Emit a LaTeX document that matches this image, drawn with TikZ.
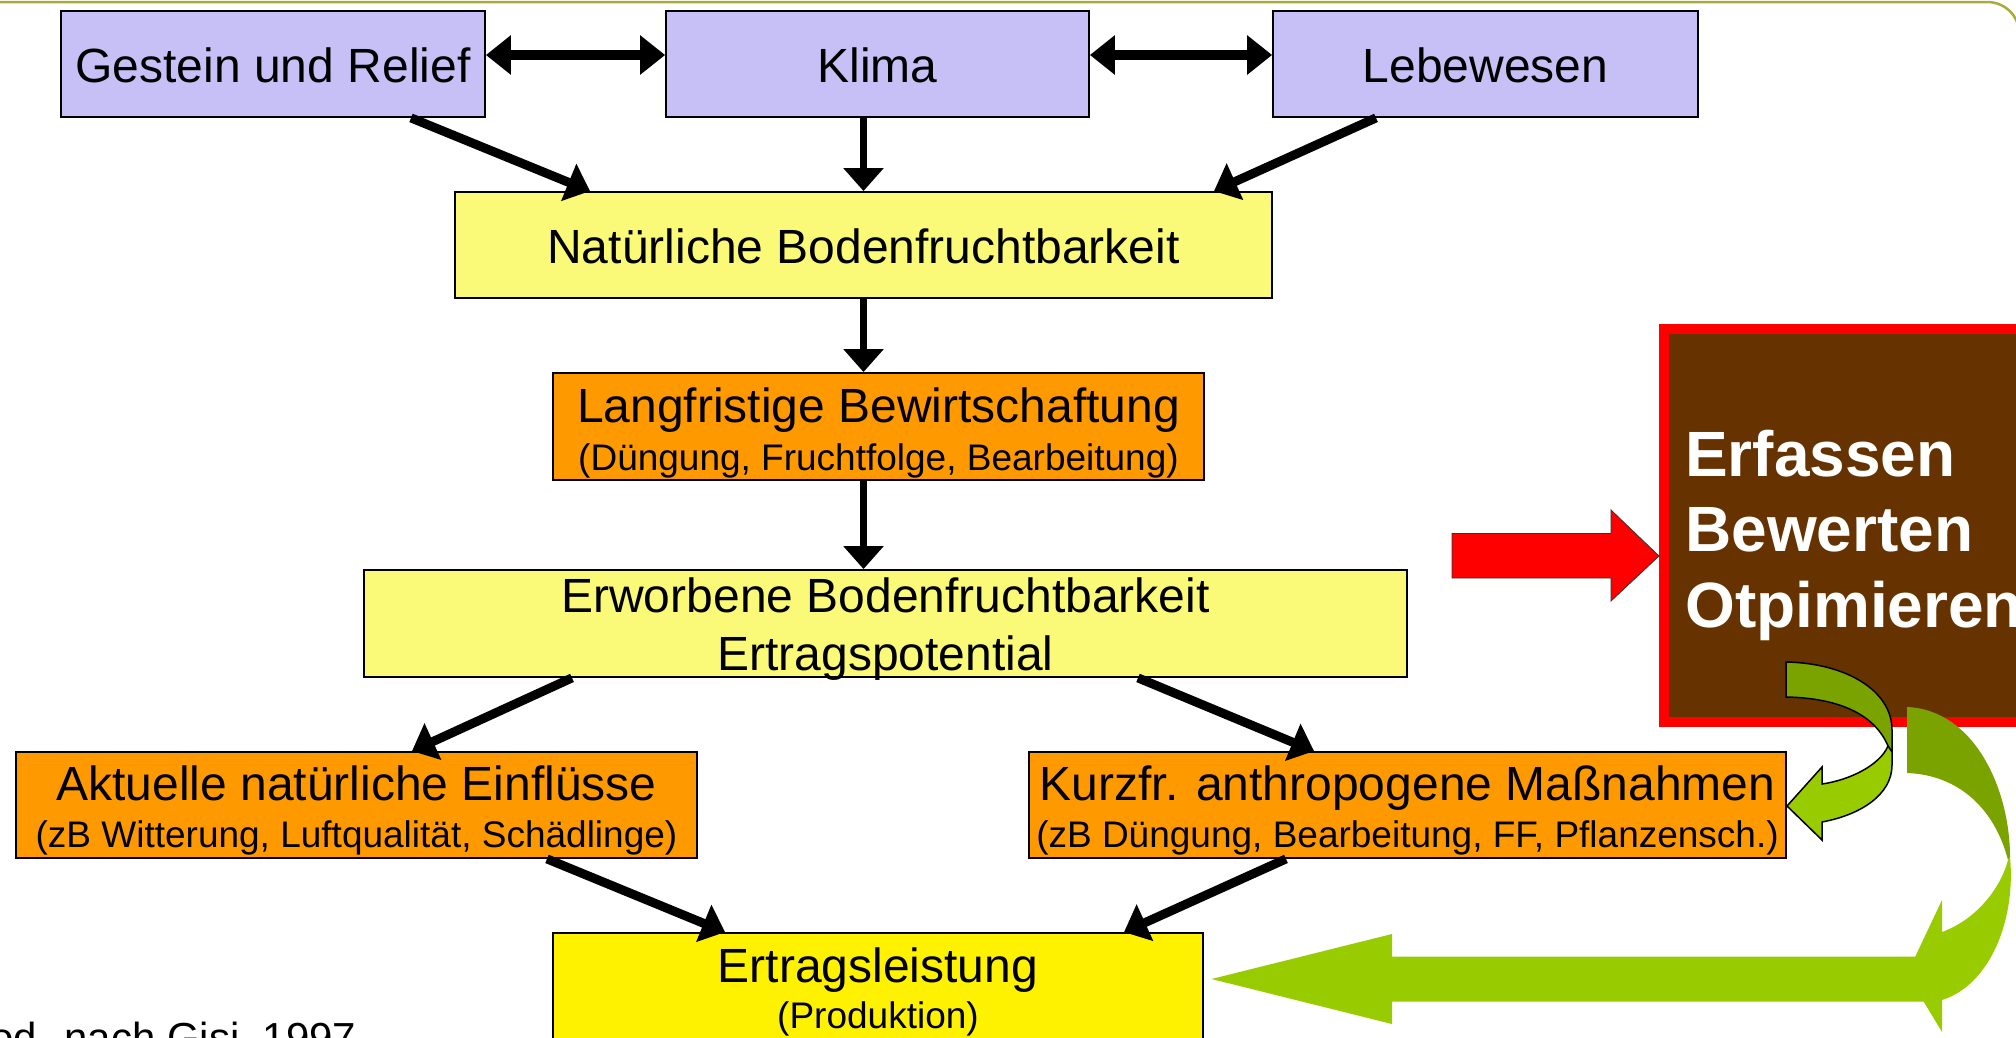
\documentclass[tikz,border=0pt]{standalone}
\usepackage{fontspec}
\setmainfont{Liberation Sans}
\usetikzlibrary{arrows.meta}

\definecolor{lavender}{RGB}{198,192,246}
\definecolor{paleyellow}{RGB}{250,250,120}
\definecolor{orangebox}{RGB}{255,153,0}
\definecolor{brownbox}{RGB}{102,51,0}
\definecolor{lightgreen}{RGB}{153,204,0}
\definecolor{darkgreen}{RGB}{122,163,0}
\definecolor{frameolive}{RGB}{170,170,60}

\begin{document}
\begin{tikzpicture}
		[
			x=1pt, y=-1pt,
			align=center,
			box/.style={draw, line width=1.8pt, inner sep=0pt},
			one/.style={text height=36pt, text depth=0pt, font=\fontsize{48}{58}\selectfont},
			big/.style={anchor=base, inner sep=0pt, font=\fontsize{48}{58}\selectfont},
			small/.style={anchor=base, inner sep=0pt, font=\fontsize{37}{44}\selectfont},
			strong/.style={anchor=base west, inner sep=0pt, text=white, font=\fontsize{64}{75}\selectfont\bfseries},
			arrow/.style={line width=9pt, -{Triangle[length=23pt,width=39pt]}},
			twoway/.style={line width=10pt, {Triangle[length=25pt,width=38pt]}-{Triangle[length=25pt,width=38pt]}}
		]

		\useasboundingbox (0,0) rectangle (2016,1037);
		\clip (0,0) rectangle (2016,1037);

		% slide frame
		\draw[frameolive, line width=2.5pt] (0,2) -- (1987,2) .. controls (2005,2) and (2019.4,16) .. (2019.4,34.4) -- (2019.4,1037);

		% factors
		\node[box, one, fill=lavender, minimum width=424pt, minimum height=106pt]	(gestein)	at (  273.0,  64.0 ) {Gestein und Relief};
		\node[box, one, fill=lavender, minimum width=423pt, minimum height=106pt]	(klima)		at (  877.5,  64.0 ) {Klima};
		\node[box, one, fill=lavender, minimum width=425pt, minimum height=106pt]	(lebewesen)	at ( 1485.5,  64.0 ) {Lebewesen};

		% fertility
		\node[box, one, fill=paleyellow, minimum width=817pt, minimum height=106pt]	(natur)		at (  863.5, 245.0 ) {Natürliche Bodenfruchtbarkeit};

		\node[box, fill=orangebox, minimum width=651pt, minimum height=107pt]		(langfr)	at (  878.5, 426.5 ) {};
		\node[big]		(langfr-a)		at (  878.5, 422.0 ) {Langfristige Bewirtschaftung};
		\node[small]	(langfr-b)		at (  878.5, 470.0 ) {(Düngung, Fruchtfolge, Bearbeitung)};

		\node[box, fill=paleyellow, minimum width=1043pt, minimum height=107pt]		(erworben)	at (  885.5, 623.5 ) {};
		\node[big]		(erworben-a)	at (  885.5, 612.0 ) {Erworbene Bodenfruchtbarkeit};
		\node[big]		(erworben-b)	at (  885.5, 670.0 ) {Ertragspotential};

		% influences
		\node[box, fill=orangebox, minimum width=681pt, minimum height=106pt]		(aktuell)	at (  356.5, 805.0 ) {};
		\node[big]		(aktuell-a)		at (  356.5, 800.0 ) {Aktuelle natürliche Einflüsse};
		\node[small]	(aktuell-b)		at (  356.5, 847.0 ) {(zB Witterung, Luftqualität, Schädlinge)};

		\node[box, fill=orangebox, minimum width=757pt, minimum height=106pt]		(kurzfr)	at ( 1407.5, 805.0 ) {};
		\node[big]		(kurzfr-a)		at ( 1407.5, 800.0 ) {Kurzfr. anthropogene Maßnahmen};
		\node[small]	(kurzfr-b)		at ( 1407.5, 847.0 ) {(zB Düngung, Bearbeitung, FF, Pflanzensch.)};

		% yield
		\node[box, fill=yellow, minimum width=650pt, minimum height=107pt]			(ertrag)	at (  878.0, 986.5 ) {};
		\node[big]		(ertrag-a)		at (  878.0, 982.0 ) {Ertragsleistung};
		\node[small]	(ertrag-b)		at (  878.0,1028.0 ) {(Produktion)};

		% assessment
		\node[draw=red, line width=10pt, fill=brownbox, inner sep=0pt, minimum width=366pt, minimum height=393.5pt] (bewerten) at ( 1847.0, 525.25 ) {};
		\node[strong]	(bewerten-a)	at ( 1685.0, 476.0 ) {Erfassen};
		\node[strong]	(bewerten-b)	at ( 1685.0, 551.0 ) {Bewerten};
		\node[strong]	(bewerten-c)	at ( 1685.0, 627.0 ) {Otpimieren};

		\node[anchor=base west, inner sep=0pt, font=\fontsize{42}{50}\selectfont] (quelle) at ( -9.7, 1052.0 ) {od. nach Gisi, 1997};

		% connectors
		\draw[twoway] ([yshift=9pt]gestein.east) -- ([yshift=9pt]klima.west);
		\draw[twoway] ([yshift=9pt]klima.east) -- ([yshift=9pt]lebewesen.west);

		\draw[arrow] ([xshift=138pt]gestein.south) -- ([xshift=-273.5pt]natur.north);
		\draw[arrow, line width=7.5pt] (natur.north |- klima.south) -- (natur.north);
		\draw[arrow] ([xshift=-109.5pt]lebewesen.south) -- ([xshift=350.5pt]natur.north);

		\draw[arrow, line width=7.5pt] (natur.south) -- (natur.south |- langfr.north);
		\draw[arrow, line width=7.5pt] (natur.south |- langfr.south) -- (natur.south |- erworben.north);

		\draw[arrow] ([xshift=-313.5pt]erworben.south) -- ([xshift=55.5pt]aktuell.north);
		\draw[arrow] ([xshift=252.5pt]erworben.south) -- ([xshift=-93.5pt]kurzfr.north);
		\draw[arrow] ([xshift=190.5pt]aktuell.south) -- ([xshift=-153pt]ertrag.north);
		\draw[arrow] ([xshift=-121.5pt]kurzfr.south) -- ([xshift=246pt]ertrag.north);

		% block arrows
		\filldraw[fill=red, draw=black!80, line width=0.8pt]
			(1452,533.5) -- (1611,533.5) -- (1611,510) -- (1659,556) -- (1611,601) -- (1611,578) -- (1452,578) -- cycle;

		\fill[lightgreen]
			(1925,956.7) -- (1392,956.7) -- (1392,934) -- (1211.5,979) -- (1392,1024) -- (1392,1001.7) -- (1925,1001.7) -- cycle;

		\fill[darkgreen]
			(1907,707) .. controls (1975,710) and (2010,790) .. (2010,857) -- (2008,860)
			.. controls (1995,810) and (1960,775) .. (1907,773) -- cycle;
		\fill[lightgreen]
			(2010,857) .. controls (2016,920) and (1990,985) .. (1942,1000) -- (1942,1032) -- (1907,974)
			-- (1942,900) -- (1942,932) .. controls (1975,920) and (2000,890) .. (2008,860) -- cycle;

		\filldraw[fill=darkgreen, draw=black, line width=1.5pt]
			(1786,662) .. controls (1845,663) and (1892,690) .. (1892,730) -- (1892,752)
			-- (1888,746) .. controls (1875,715) and (1840,698) .. (1786,697) -- cycle;
		\filldraw[fill=lightgreen, draw=black, line width=1.5pt]
			(1888,746) -- (1892,752) -- (1892,765) .. controls (1892,795) and (1860,815) .. (1822,822)
			-- (1822,840) -- (1787,806) -- (1822,767) -- (1822,784)
			.. controls (1850,780) and (1880,765) .. (1888,746) -- cycle;

	\end{tikzpicture}
\end{document}
